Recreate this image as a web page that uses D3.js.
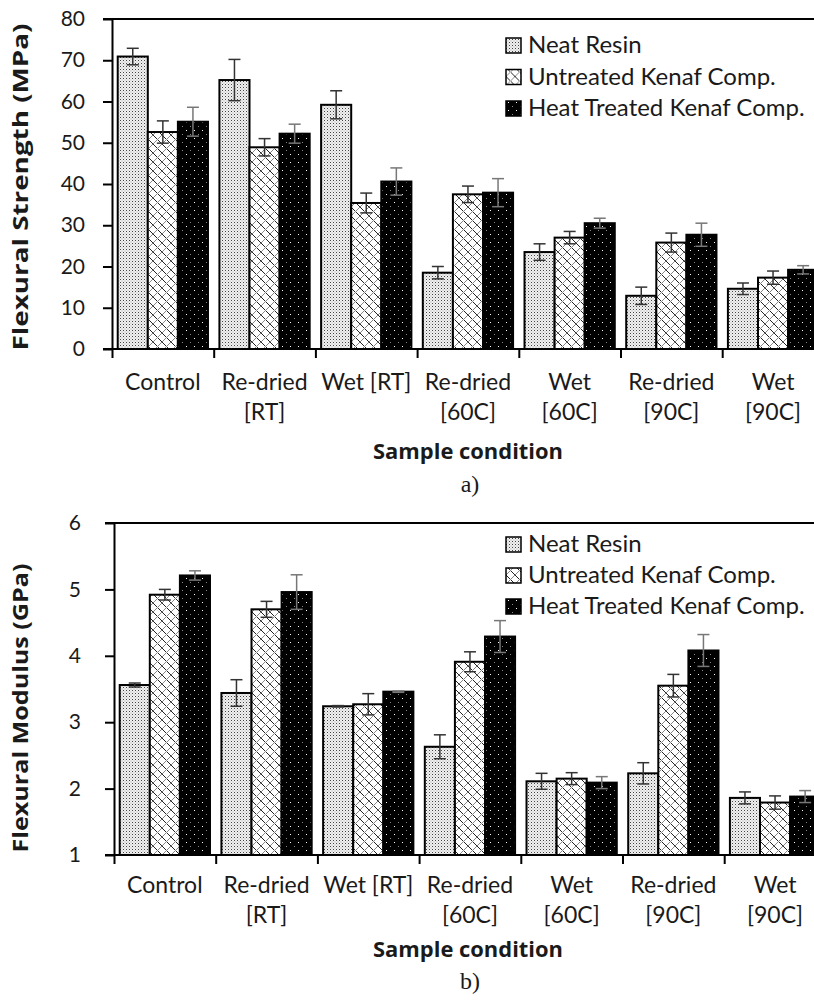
<!DOCTYPE html>
<html>
<head>
<meta charset="utf-8">
<script src="https://cdn.jsdelivr.net/npm/d3@7"></script>
<style>
  body { margin: 0; background: #fff; }
  text { font-family: Lato, "Open Sans", sans-serif; fill: #1a1a1a; }
</style>
</head>
<body>
<svg width="814" height="1000"></svg>
<script>
var categories = ["Control", "Re-dried [RT]", "Wet [RT]", "Re-dried [60C]", "Wet [60C]", "Re-dried [90C]", "Wet [90C]"];
var categoryLines = [["Control"], ["Re-dried", "[RT]"], ["Wet [RT]"], ["Re-dried", "[60C]"], ["Wet", "[60C]"], ["Re-dried", "[90C]"], ["Wet", "[90C]"]];
var series = ["Neat Resin", "Untreated Kenaf Comp.", "Heat Treated Kenaf Comp."];

// flexural strength (MPa)
var strengthNeat = [70.9, 65.2, 59.2, 18.5, 23.5, 12.9, 14.6];
var strengthNeatErr = [2.0, 5.0, 3.4, 1.5, 2.0, 2.1, 1.4];
var strengthUntreated = [52.6, 48.9, 35.4, 37.5, 27.0, 25.8, 17.3];
var strengthUntreatedErr = [2.7, 2.1, 2.4, 2.0, 1.5, 2.3, 1.6];
var strengthHeat = [55.1, 52.2, 40.6, 37.9, 30.5, 27.7, 19.2];
var strengthHeatErr = [3.5, 2.3, 3.3, 3.4, 1.2, 2.8, 1.0];
var strengthTicks = [0, 10, 20, 30, 40, 50, 60, 70, 80];

// flexural modulus (GPa)
var modulusNeat = [3.56, 3.44, 3.24, 2.63, 2.11, 2.23, 1.86];
var modulusNeatErr = [0.03, 0.20, 0.01, 0.18, 0.12, 0.16, 0.09];
var modulusUntreated = [4.92, 4.70, 3.27, 3.91, 2.15, 3.55, 1.79];
var modulusUntreatedErr = [0.08, 0.12, 0.16, 0.15, 0.09, 0.17, 0.10];
var modulusHeat = [5.21, 4.96, 3.46, 4.29, 2.09, 4.08, 1.88];
var modulusHeatErr = [0.07, 0.26, 0.01, 0.24, 0.09, 0.24, 0.09];
var modulusTicks = [1, 2, 3, 4, 5, 6];

var svg = d3.select("svg");
var defs = svg.append("defs");

// fine dots for neat resin
var p1 = defs.append("pattern").attr("id", "pNeat").attr("patternUnits", "userSpaceOnUse")
    .attr("width", 3).attr("height", 3);
p1.append("rect").attr("width", 3).attr("height", 3).attr("fill", "#f0f0f0");
p1.append("rect").attr("x", 0).attr("y", 0).attr("width", 1).attr("height", 1).attr("fill", "#444");
p1.append("rect").attr("x", 1.5).attr("y", 1.5).attr("width", 1).attr("height", 1).attr("fill", "#aaa");

// diamond crosshatch for untreated
var p2 = defs.append("pattern").attr("id", "pUntr").attr("patternUnits", "userSpaceOnUse")
    .attr("width", 9).attr("height", 9);
p2.append("rect").attr("width", 9).attr("height", 9).attr("fill", "#fff");
p2.append("path").attr("d", "M0,0L9,9M-1,8L1,10M8,-1L10,1").attr("stroke", "#222").attr("stroke-width", 1);
p2.append("path").attr("d", "M9,0L0,9M-1,1L1,-1M8,10L10,8").attr("stroke", "#888").attr("stroke-width", 1);

// black with white dots for heat treated
var p3 = defs.append("pattern").attr("id", "pHeat").attr("patternUnits", "userSpaceOnUse")
    .attr("width", 8).attr("height", 8);
p3.append("rect").attr("width", 8).attr("height", 8).attr("fill", "#000");
p3.append("rect").attr("x", 2).attr("y", 2).attr("width", 1).attr("height", 1).attr("fill", "#fff");
p3.append("rect").attr("x", 6).attr("y", 6).attr("width", 1).attr("height", 1).attr("fill", "#888");

var fills = ["url(#pNeat)", "url(#pUntr)", "url(#pHeat)"];

function drawChart(opt) {
  var x = d3.scaleBand().domain(categories).range([opt.left, opt.left + 7 * 101.7]).paddingInner(0).paddingOuter(0);
  var x1 = d3.scaleBand().domain(series).range([0, x.bandwidth()]).paddingInner(0).paddingOuter(0.19);
  var xEdge = d3.scaleLinear().domain([0, 7]).range(x.range());
  var y = d3.scaleLinear().domain(opt.domain).range([opt.bottom, opt.top]);

  var g = svg.append("g");

  var rows = [];
  categories.forEach(function(c, i) {
    opt.values.forEach(function(vals, s) {
      rows.push({cat: c, s: s, v: vals[i], e: opt.errs[s][i]});
    });
  });

  g.selectAll(".bar").data(rows).enter().append("rect")
    .attr("class", "bar")
    .attr("x", function(d) { return x(d.cat) + x1(series[d.s]); })
    .attr("y", function(d) { return y(d.v); })
    .attr("width", x1.bandwidth())
    .attr("height", function(d) { return y(opt.domain[0]) - y(d.v); })
    .attr("fill", function(d) { return fills[d.s]; })
    .attr("stroke", "#000")
    .attr("stroke-width", 2);

  // error bars
  var eb = g.selectAll(".err").data(rows).enter().append("g")
    .attr("class", "err")
    .attr("stroke", function(d) { return d.s == 2 ? "#777" : "#333"; })
    .attr("stroke-width", 1.5);
  var cx = function(d) { return x(d.cat) + x1(series[d.s]) + x1.bandwidth() / 2; };
  eb.append("line")
    .attr("x1", cx).attr("x2", cx)
    .attr("y1", function(d) { return y(d.v - d.e); })
    .attr("y2", function(d) { return y(d.v + d.e); });
  eb.append("line")
    .attr("x1", function(d) { return cx(d) - 6; }).attr("x2", function(d) { return cx(d) + 6; })
    .attr("y1", function(d) { return y(d.v + d.e); })
    .attr("y2", function(d) { return y(d.v + d.e); });
  eb.append("line")
    .attr("x1", function(d) { return cx(d) - 6; }).attr("x2", function(d) { return cx(d) + 6; })
    .attr("y1", function(d) { return y(d.v - d.e); })
    .attr("y2", function(d) { return y(d.v - d.e); });

  // y axis
  var yAxis = d3.axisLeft(y).tickValues(opt.ticks).tickFormat(d3.format("d"))
      .tickSize(9).tickSizeOuter(0).tickPadding(opt.tickPad);
  var ya = g.append("g").attr("transform", "translate(" + opt.left + ",0)").call(yAxis);
  ya.selectAll("line").attr("stroke", "#000").attr("stroke-width", 2);
  ya.select(".domain").attr("stroke", "#000").attr("stroke-width", 2);
  ya.selectAll("text").style("font-size", "21px").style("font-family", "Lato").attr("fill", "#1a1a1a");

  // top border line
  g.append("line")
    .attr("x1", opt.left - 9).attr("x2", 830)
    .attr("y1", y(opt.domain[1])).attr("y2", y(opt.domain[1]))
    .attr("stroke", "#000").attr("stroke-width", 2);

  // x axis: category boundaries
  var xAxis = d3.axisBottom(xEdge).tickValues(d3.range(0, 8)).tickFormat("").tickSize(9).tickSizeOuter(0);
  var xa = g.append("g").attr("transform", "translate(0," + opt.bottom + ")").call(xAxis);
  xa.selectAll("line").attr("stroke", "#000").attr("stroke-width", 2);
  xa.select(".domain").remove();
  g.append("line")
    .attr("x1", opt.left - 9).attr("x2", 830)
    .attr("y1", opt.bottom).attr("y2", opt.bottom)
    .attr("stroke", "#000").attr("stroke-width", 2);

  // category labels
  var lab = g.selectAll(".cat").data(categories).enter().append("text")
    .attr("class", "cat")
    .attr("text-anchor", "middle")
    .style("font-size", "23px");
  lab.each(function(c, i) {
    var t = d3.select(this);
    categoryLines[i].forEach(function(line, k) {
      t.append("tspan")
        .attr("x", x(c) + x.bandwidth() / 2)
        .attr("y", opt.bottom + opt.labY + k * 30)
        .text(line);
    });
  });

  g.append("text")
    .attr("text-anchor", "middle")
    .attr("x", 468).attr("y", opt.bottom + opt.xTitleY)
    .attr("textLength", 190).attr("lengthAdjust", "spacingAndGlyphs")
    .style("font-family", "Open Sans").style("font-size", "22px").style("font-weight", "bold")
    .text("Sample condition");

  g.append("text")
    .attr("transform", "translate(" + 28 + "," + opt.titleY + ")rotate(-90)")
    .attr("text-anchor", "middle")
    .attr("textLength", opt.titleLen).attr("lengthAdjust", "spacingAndGlyphs")
    .style("font-family", "Open Sans").style("font-size", "22px").style("font-weight", "bold")
    .text(opt.title);

  g.append("text")
    .attr("text-anchor", "middle")
    .attr("x", 470).attr("y", opt.bottom + opt.tagY)
    .style("font-family", "Liberation Serif, serif").style("font-size", "24px")
    .text(opt.tag);

  // legend
  var lg = g.selectAll(".leg").data(series).enter().append("g")
    .attr("class", "leg")
    .attr("transform", function(d, i) { return "translate(506," + opt.legendY[i] + ")"; });
  lg.append("rect")
    .attr("x", 0).attr("y", -7).attr("width", 15).attr("height", 15)
    .attr("fill", function(d, i) { return fills[i]; })
    .attr("stroke", "#000").attr("stroke-width", 1.5);
  lg.append("text")
    .attr("x", 22).attr("y", 8)
    .style("font-size", "24px")
    .text(function(d) { return d; });
}

drawChart({
  left: 112, top: 19, bottom: 349, domain: [0, 80], ticks: strengthTicks, tickPad: 18,
  values: [strengthNeat, strengthUntreated, strengthHeat],
  errs: [strengthNeatErr, strengthUntreatedErr, strengthHeatErr],
  title: "Flexural Strength (MPa)", titleY: 187, titleLen: 327, tag: "a)",
  labY: 41, xTitleY: 110, tagY: 143,
  legendY: [45, 76.5, 108]
});

drawChart({
  left: 114, top: 523, bottom: 855, domain: [1, 6], ticks: modulusTicks, tickPad: 24,
  values: [modulusNeat, modulusUntreated, modulusHeat],
  errs: [modulusNeatErr, modulusUntreatedErr, modulusHeatErr],
  title: "Flexural Modulus (GPa)", titleY: 708, titleLen: 289, tag: "b)",
  labY: 38, xTitleY: 102, tagY: 134,
  legendY: [544, 575, 606]
});
</script>
</body>
</html>
